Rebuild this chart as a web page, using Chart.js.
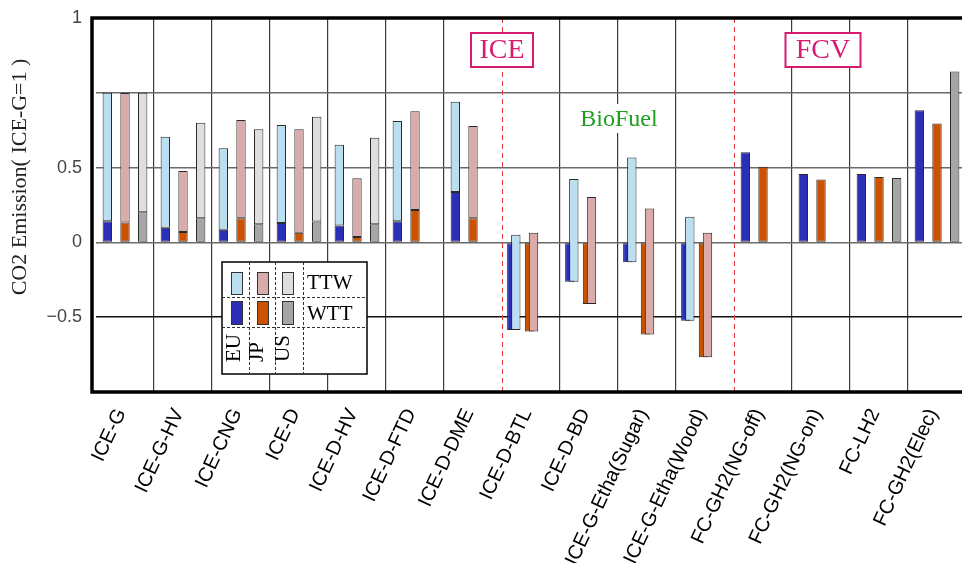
<!DOCTYPE html>
<html>
<head>
<meta charset="utf-8">
<title>CO2 Emission</title>
<script src="https://cdn.jsdelivr.net/npm/chart.js@4/dist/chart.umd.min.js"></script>
<style>
  html, body { margin: 0; padding: 0; overflow: hidden; background: #fff; }
  canvas { display: block; }
</style>
</head>
<body>
<canvas id="grafico-co2" width="968" height="563"></canvas>
<script>
// Categories
const categories = ['ICE-G', 'ICE-G-HV', 'ICE-CNG', 'ICE-D', 'ICE-D-HV', 'ICE-D-FTD', 'ICE-D-DME',
    'ICE-D-BTL', 'ICE-D-BD', 'ICE-G-Etha(Sugar)', 'ICE-G-Etha(Wood)',
    'FC-GH2(NG-off)', 'FC-GH2(NG-on)', 'FC-LH2', 'FC-GH2(Elec)'];

// Well-to-tank (dark, base) and tank-to-wheel (light, on top) per region
const euWTT = [0.142, 0.098, 0.084, 0.129, 0.113, 0.142, 0.337, -0.585, -0.263, -0.133, -0.523, 0.603, 0.457, 0.457, 0.884];
const euTTW = [0.858, 0.609, 0.546, 0.656, 0.539, 0.669, 0.603, 0.636, 0.687, 0.701, 0.694, null, null, null, null];
const jpWTT = [0.133, 0.069, 0.162, 0.064, 0.036, 0.217, 0.162, -0.596, -0.412, -0.616, -0.767, 0.505, 0.421, 0.437, 0.794];
const jpTTW = [0.865, 0.408, 0.656, 0.692, 0.392, 0.659, 0.616, 0.660, 0.716, 0.842, 0.831, null, null, null, null];
const usWTT = [0.202, 0.162, 0.122, 0.140, 0.122, null, null, null, null, null, null, null, null, 0.430, 1.142];
const usTTW = [0.798, 0.638, 0.634, 0.700, 0.578, null, null, null, null, null, null, null, null, null, null];

// Y tick labels as printed on the original
const yTickValues = [1.5, 0.5, 0, -0.5];
const yTickTexts = ['1', '0.5', '0', '\u22120.5'];

// Group separators drawn red dashed (index of first category of the group)
const groupStarts = [7, 11];
const groupTags = ['ICE', 'FCV'];

const regions = ['EU', 'JP', 'US'];
const colorsTTW = ['#bcdff0', '#d9abab', '#dedede'];
const colorsWTT = ['#2b2fb5', '#cc5200', '#a6a6a6'];

const serif = "'Liberation Serif', 'Times New Roman', serif";
const sans = "'Liberation Sans', Arial, sans-serif";

function barSet(label, stack, data, color, order, part, wtt) {
    return {
        label: label,
        stack: stack,
        data: data,
        backgroundColor: color,
        borderColor: '#2a2a2a',
        borderWidth: 1,
        borderSkipped: false,
        categoryPercentage: 0.915,
        barPercentage: 0.53,
        order: order,
        part: part,
        wtt: wtt
    };
}

function floating(wtt, ttw) {
    return wtt.map((w, i) => (ttw[i] == null || w == null) ? null : [w, w + ttw[i]]);
}

const wttSets = [euWTT, jpWTT, usWTT];
const ttwSets = [euTTW, jpTTW, usTTW];
const datasets = [];
regions.forEach((r, k) => {
    datasets.push(barSet(r + ' TTW', r, floating(wttSets[k], ttwSets[k]), colorsTTW[k], 0, 'TTW', wttSets[k]));
});
regions.forEach((r, k) => {
    datasets.push(barSet(r + ' WTT', r, wttSets[k], colorsWTT[k], 1, 'WTT', wttSets[k]));
});

// Frame, group tags, legend table and axis title
const decor = {
    id: 'decor',
    afterDatasetsUpdate(chart) {
        // where WTT is negative the two parts sit slightly side by side
        chart.data.datasets.forEach((ds, di) => {
            chart.getDatasetMeta(di).data.forEach((bar, i) => {
                const w = ds.wtt[i];
                if (w != null && w < 0) bar.x += ds.part === 'TTW' ? 2.5 : -1.5;
            });
        });
    },
    beforeDatasetsDraw(chart) {
        const ctx = chart.ctx;
        const x = chart.scales.x;
        const area = chart.chartArea;
        ctx.save();
        ctx.strokeStyle = '#e8383d';
        ctx.lineWidth = 1;
        ctx.setLineDash([5, 4]);
        groupStarts.forEach(g => {
            const px = Math.round((x.getPixelForValue(g - 1) + x.getPixelForValue(g)) / 2) + 0.5;
            ctx.beginPath();
            ctx.moveTo(px, area.top);
            ctx.lineTo(px, area.bottom);
            ctx.stroke();
        });
        ctx.restore();
    },
    afterDraw(chart) {
        const ctx = chart.ctx;
        const x = chart.scales.x;
        const area = chart.chartArea;
        ctx.save();

        // frame
        ctx.strokeStyle = '#000';
        ctx.lineWidth = 3.5;
        ctx.beginPath();
        ctx.moveTo(area.right + 5, area.top);
        ctx.lineTo(area.left - 4, area.top);
        ctx.lineTo(area.left - 4, area.bottom);
        ctx.lineTo(area.right + 5, area.bottom);
        ctx.stroke();

        // ICE / FCV tags
        ctx.font = '28px ' + serif;
        ctx.textAlign = 'center';
        ctx.textBaseline = 'middle';
        const tagCenters = [(x.getPixelForValue(6) + x.getPixelForValue(7)) / 2, x.getPixelForValue(12) + 2];
        tagCenters.forEach((cx, k) => {
            const w = k === 0 ? 62 : 75;
            ctx.fillStyle = '#fff';
            ctx.fillRect(cx - w / 2, 33, w, 34);
            ctx.strokeStyle = '#d81b6e';
            ctx.lineWidth = 2;
            ctx.strokeRect(cx - w / 2, 33, w, 34);
            ctx.fillStyle = '#d81b6e';
            ctx.fillText(groupTags[k], cx, 51);
        });

        // BioFuel note
        ctx.font = '24px ' + serif;
        const bx = x.getPixelForValue(9) - 28;
        const bw = ctx.measureText('BioFuel').width;
        ctx.fillStyle = '#fff';
        ctx.fillRect(bx - bw / 2 - 3, 104, bw + 6, 29);
        ctx.fillStyle = '#1f9e1f';
        ctx.fillText('BioFuel', bx, 120);

        // legend table
        const L = 222, T = 262, R = 367, B = 374;
        ctx.fillStyle = '#fff';
        ctx.fillRect(L, T, R - L, B - T);
        ctx.strokeStyle = '#000';
        ctx.lineWidth = 1.5;
        ctx.setLineDash([]);
        ctx.strokeRect(L, T, R - L, B - T);
        ctx.lineWidth = 1;
        ctx.strokeStyle = '#333';
        ctx.setLineDash([3, 2]);
        [249.5, 275.5, 303.5].forEach(vx => {
            ctx.beginPath(); ctx.moveTo(vx, T); ctx.lineTo(vx, B + 2); ctx.stroke();
        });
        [297.5, 327.5].forEach(hy => {
            ctx.beginPath(); ctx.moveTo(L, hy); ctx.lineTo(R, hy); ctx.stroke();
        });
        ctx.setLineDash([]);
        const swX = [231, 257, 282];
        regions.forEach((r, k) => {
            ctx.fillStyle = colorsTTW[k];
            ctx.fillRect(swX[k], 272, 11, 22);
            ctx.strokeStyle = '#333';
            ctx.strokeRect(swX[k] + 0.5, 272.5, 11, 22);
            ctx.fillStyle = colorsWTT[k];
            ctx.fillRect(swX[k], 301, 11, 23);
            ctx.strokeRect(swX[k] + 0.5, 301.5, 11, 23);
        });
        ctx.fillStyle = '#000';
        ctx.font = '21px ' + serif;
        ctx.textAlign = 'left';
        ctx.textBaseline = 'alphabetic';
        ctx.fillText('TTW', 307, 289);
        ctx.fillText('WTT', 307, 320);
        const rx = [234, 257, 283];
        regions.forEach((r, k) => {
            ctx.save();
            ctx.translate(rx[k], 362);
            ctx.rotate(-Math.PI / 2);
            ctx.textBaseline = 'middle';
            ctx.fillText(r, 0, 0);
            ctx.restore();
        });

        // y axis title
        ctx.font = '22px ' + serif;
        ctx.fillStyle = '#222';
        ctx.textAlign = 'center';
        ctx.textBaseline = 'middle';
        ctx.translate(20, 177);
        ctx.rotate(-Math.PI / 2);
        ctx.fillText('CO2 Emission( ICE-G=1 )', 0, 0);
        ctx.restore();
    }
};

const ctxCO2 = document.getElementById('grafico-co2');
new Chart(ctxCO2.getContext('2d'), {
    type: 'bar',
    data: {
        labels: categories,
        datasets: datasets
    },
    options: {
        responsive: false,
        animation: false,
        layout: {
            padding: { top: 18, right: 2, left: 0, bottom: 0 }
        },
        plugins: {
            legend: { display: false },
            tooltip: { enabled: false }
        },
        scales: {
            x: {
                offset: true,
                grid: {
                    offset: true,
                    drawTicks: false,
                    lineWidth: 1.2,
                    color: (c) => (c.index === 0 || groupStarts.includes(c.index)) ? 'rgba(0,0,0,0)' : '#3a3a3a'
                },
                border: { display: false },
                ticks: {
                    autoSkip: false,
                    minRotation: 65,
                    maxRotation: 65,
                    padding: 13,
                    labelOffset: -4,
                    color: '#000',
                    font: { family: sans, size: 20 }
                },
                afterFit: (scale) => {
                    scale.height = 171;
                    scale.paddingLeft = 0;
                    scale.paddingRight = 0;
                }
            },
            y: {
                min: -1,
                max: 1.5,
                stacked: false,
                grid: {
                    drawTicks: false,
                    lineWidth: 1.5,
                    color: (c) => (c.tick && c.tick.value === -0.5) ? '#111' : '#6a6a6a'
                },
                border: { display: false },
                ticks: {
                    stepSize: 0.5,
                    padding: 14,
                    color: '#444',
                    font: { family: sans, size: 18 },
                    callback: (value) => {
                        const k = yTickValues.findIndex(t => Math.abs(t - value) < 1e-9);
                        return k >= 0 ? yTickTexts[k] : '';
                    }
                },
                afterFit: (scale) => {
                    scale.width = 96;
                    scale.paddingTop = 0;
                    scale.paddingBottom = 0;
                }
            }
        }
    },
    plugins: [decor]
});
</script>
</body>
</html>
